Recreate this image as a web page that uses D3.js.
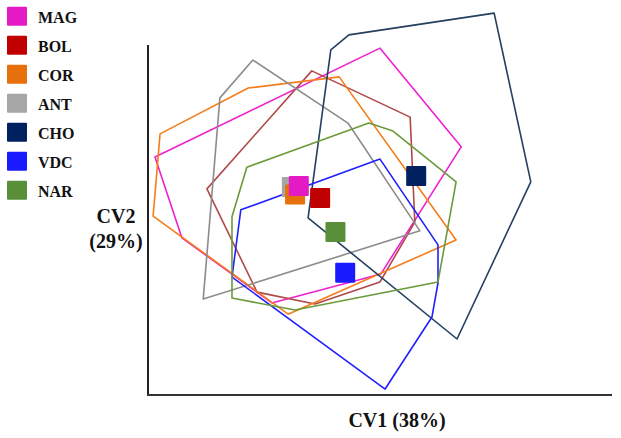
<!DOCTYPE html>
<html><head><meta charset="utf-8">
<script src="https://cdn.jsdelivr.net/npm/d3@7"></script>
<style>body{margin:0;background:#fff}svg{display:block}</style>
</head><body>
<svg id="c" width="621" height="438"></svg>
<script>
const groups = ["MAG","BOL","COR","ANT","CHO","VDC","NAR"];
const markerColors = ["#e41bc4","#c00000","#e8700c","#a6a6a6","#002060","#1a1aff","#5a8f3a"];
const lineColors   = ["#f020d0","#b04848","#f57d1a","#8c8c8c","#243f60","#2020ff","#6a9a3a"];
// group centroids (CV1, CV2)
const centroidCV1 = [32.5, 37.1, 31.7, 31.0, 57.8, 42.5, 40.4];
const centroidCV2 = [59.7, 56.3, 57.3, 59.4, 62.6, 34.9, 46.6];
// convex hull vertices per group
const hullMAG = [[1.5,68.0],[50.0,99.1],[67.5,70.9],[50.2,34.6],[26.7,26.3],[7.3,44.9]];
const hullBOL = [[12.7,58.9],[35.3,92.6],[56.5,79.4],[57.5,49.4],[50.0,32.3],[36.0,26.0],[23.5,29.4]];
const hullCOR = [[2.6,74.6],[21.6,87.7],[41.2,90.9],[66.4,44.3],[30.2,23.1],[1.1,51.1]];
const hullANT = [[22.6,95.7],[43.1,77.7],[58.6,46.9],[11.9,27.4],[15.5,84.9]];
const hullCHO = [[39.4,98.6],[43.3,102.9],[74.6,109.1],[82.5,60.9],[66.6,16.0],[34.5,50.6]];
const hullVDC = [[50.0,67.4],[62.5,42.9],[62.5,32.0],[61.2,22.3],[51.1,1.7],[18.1,33.7],[20.0,52.9]];
const hullNAR = [[21.3,65.1],[47.6,77.7],[52.8,75.4],[66.4,60.9],[62.5,32.3],[31.7,24.3],[18.1,27.7],[18.1,50.9]];
const hulls = [hullMAG,hullBOL,hullCOR,hullANT,hullCHO,hullVDC,hullNAR];
const xLabel = "CV1 (38%)";
const yLabel1 = "CV2", yLabel2 = "(29%)";

const svg = d3.select("#c");
const x = d3.scaleLinear().domain([0,100]).range([148,612]);
const y = d3.scaleLinear().domain([0,100]).range([395,45]);

// axes
svg.append("line").attr("x1",x(0)).attr("x2",x(0)).attr("y1",y(100)).attr("y2",y(0))
  .attr("stroke","#222").attr("stroke-width",2);
svg.append("line").attr("x1",x(0)-1).attr("x2",x(100)).attr("y1",y(0)).attr("y2",y(0))
  .attr("stroke","#333").attr("stroke-width",2.2);

const line = d3.line().x(d=>x(d[0])).y(d=>y(d[1])).curve(d3.curveLinearClosed);
svg.append("g").selectAll("path").data(hulls).join("path")
  .attr("d", d=>line(d)).attr("fill","none")
  .attr("stroke",(d,i)=>lineColors[i]).attr("stroke-width",1.6).attr("stroke-linejoin","round");

// centroids (draw order so MAG sits on top of ANT/COR)
const order = [6,5,4,3,2,1,0];
svg.append("g").selectAll("rect").data(order).join("rect")
  .attr("x",i=>x(centroidCV1[i])-10).attr("y",i=>y(centroidCV2[i])-10)
  .attr("width",20).attr("height",20).attr("rx",1)
  .attr("fill",i=>markerColors[i]);

// legend
const lg = svg.append("g");
groups.forEach((g,i)=>{
  const cy = 16.7 + i*29;
  lg.append("rect").attr("x",7).attr("y",cy-10).attr("width",20).attr("height",19).attr("rx",1).attr("fill",markerColors[i]);
  lg.append("text").attr("x",38).attr("y",cy+6).text(g)
    .attr("font-family","Liberation Serif, serif").attr("font-weight","bold").attr("font-size",16).attr("fill","#111");
});

svg.append("text").attr("x",397).attr("y",427).attr("text-anchor","middle").text(xLabel)
  .attr("font-family","Liberation Serif, serif").attr("font-weight","bold").attr("font-size",20).attr("fill","#111");
svg.append("text").attr("x",116).attr("y",223).attr("text-anchor","middle").text(yLabel1)
  .attr("font-family","Liberation Serif, serif").attr("font-weight","bold").attr("font-size",20).attr("fill","#111");
svg.append("text").attr("x",116).attr("y",248).attr("text-anchor","middle").text(yLabel2)
  .attr("font-family","Liberation Serif, serif").attr("font-weight","bold").attr("font-size",20).attr("fill","#111");
</script>
</body></html>
